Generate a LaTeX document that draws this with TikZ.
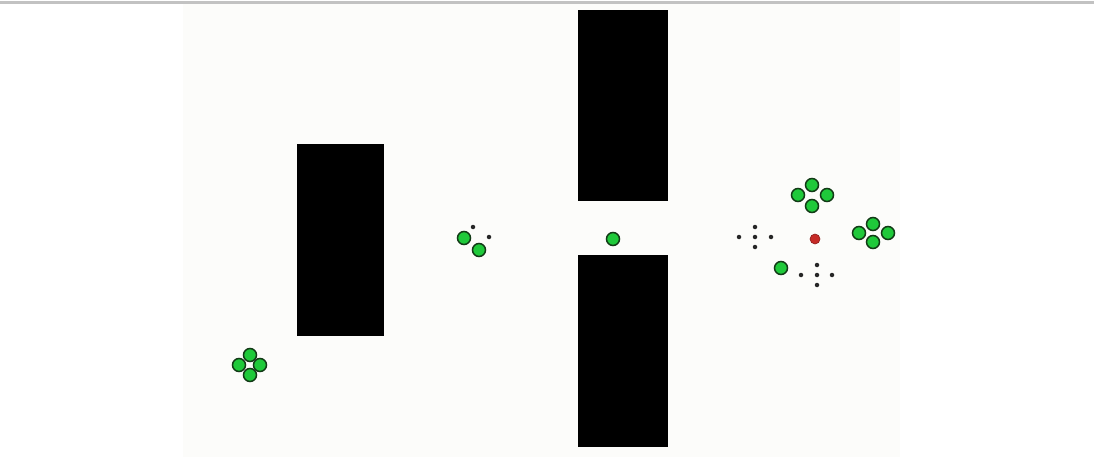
\documentclass[tikz,border=0pt]{standalone}
\usetikzlibrary{positioning}
\definecolor{panel}{HTML}{FCFCFA}
\definecolor{topline}{HTML}{C2C2C2}
\definecolor{dotgreen}{HTML}{1FC93A}
\definecolor{dotedge}{HTML}{123A16}
\definecolor{dotred}{HTML}{C62A26}
\begin{document}
\begin{tikzpicture}[x=1pt,y=-1pt,
  wall/.style={fill=black,draw=none},
  gdot/.style={circle,fill=dotgreen,draw=dotedge,line width=1.5pt,minimum size=13pt,inner sep=0pt},
  bdot/.style={circle,fill=black!85,draw=none,minimum size=4.5pt,inner sep=0pt},
  rdot/.style={circle,fill=dotred,draw=dotred!70!black,line width=0.6pt,minimum size=10pt,inner sep=0pt}]
\useasboundingbox (0,0) rectangle (1094,457);
\fill[white] (0,0) rectangle (1094,457);
\fill[panel] (183,4) rectangle (900,457);
\draw[topline,line width=2.5pt] (0,2.5) -- (1094,2.5);
% walls
\fill[wall] (297,144) rectangle (384,336);
\fill[wall] (578,10) rectangle (668,201);
\fill[wall] (578,255) rectangle (668,447);
% bottom-left cluster
\node[gdot] (bl1) at (250,355) {};
\node[gdot] (bl2) at (239,365) {};
\node[gdot] (bl3) at (260,365) {};
\node[gdot] (bl4) at (250,375) {};
% middle-left group
\node[bdot] (ml1) at (473,227) {};
\node[bdot] (ml2) at (489,237) {};
\node[gdot] (ml3) at (464,238) {};
\node[gdot] (ml4) at (479,250) {};
% gap dot
\node[gdot] (gap) at (613,239) {};
% upper right cluster
\node[gdot] (ur1) at (812,185) {};
\node[gdot] (ur2) at (798,195) {};
\node[gdot] (ur3) at (827,195) {};
\node[gdot] (ur4) at (812,206) {};
% far right cluster
\node[gdot] (fr1) at (873,224) {};
\node[gdot] (fr2) at (859,233) {};
\node[gdot] (fr3) at (888,233) {};
\node[gdot] (fr4) at (873,242) {};
% black crosses
\node[bdot] (c1a) at (755,227) {};
\node[bdot] (c1b) at (739,237) {};
\node[bdot] (c1c) at (755,237) {};
\node[bdot] (c1d) at (771,237) {};
\node[bdot] (c1e) at (755,247) {};
\node[bdot] (c2a) at (817,265) {};
\node[bdot] (c2b) at (801,275) {};
\node[bdot] (c2c) at (817,275) {};
\node[bdot] (c2d) at (832,275) {};
\node[bdot] (c2e) at (817,285) {};
% red dot and single green
\node[rdot] (red) at (815,239) {};
\node[gdot] (sg) at (781,268) {};
\end{tikzpicture}
\end{document}
